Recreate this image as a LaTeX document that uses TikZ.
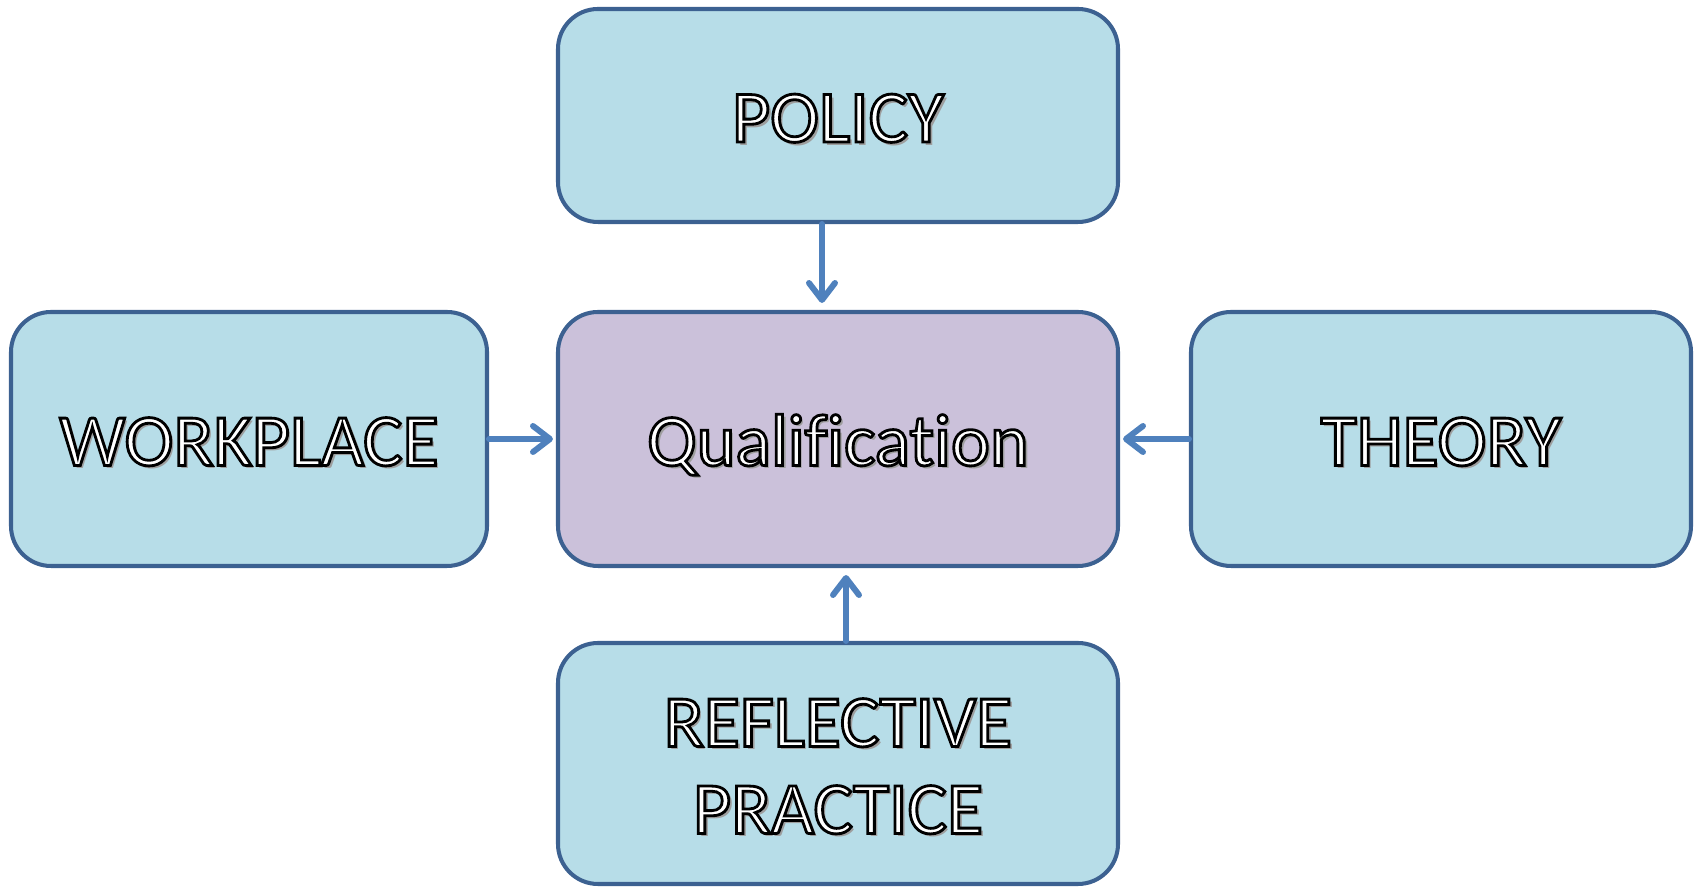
\documentclass[tikz,border=0pt]{standalone}
\usepackage{fontspec}
\setmainfont{Carlito}[Ligatures=NoCommon]
\usepackage{xcolor}
\usepackage{tikz}
\usetikzlibrary{positioning}
\usetikzlibrary{arrows.meta}

\definecolor{boxline}{HTML}{3C6191}
\definecolor{boxblue}{HTML}{B7DDE8}
\definecolor{boxlilac}{HTML}{CBC1DA}
\definecolor{arrowblue}{HTML}{4F81BD}

% white letters with a black rim (stroked glyphs) and a soft shadow
\newcommand\outlined[1]{%
  \raisebox{-1.2pt}[0.66em][0pt]{%
    \rlap{\kern1.8pt\raisebox{-1.8pt}{\color{black!38}#1}}%
    {\color{white}\special{pdf:code q 2 Tr 1.6 w 0 0 0 RG}#1\special{pdf:code Q}}}}

\begin{document}
\begin{tikzpicture}
               [box/.style = {draw=boxline, line width=2.3pt, rounded corners=0.8cm, fill=boxblue,
                              align=center, font=\fontsize{42}{49.5}\selectfont, inner sep=0pt},
                qual/.style = {box, fill=boxlilac},
                flow/.style = {draw=arrowblue, line width=3.4pt, line cap=round,
                               -{Straight Barb[length=0.34cm, width=0.52cm, line width=3.4pt, round]}}]
                \useasboundingbox (0,0) rectangle (33.96,17.76);
                % Centre box
                \node[qual, minimum width=11.2cm, minimum height=5.08cm] (qual) at (16.76,8.98) {\outlined{Qualification}};
                % Boxes around it
                \node[box, minimum width=11.2cm, minimum height=4.26cm] (policy) at (16.76,15.45) {\outlined{POLICY}};
                \node[box, minimum width=9.52cm, minimum height=5.08cm] (workplace) at (4.98,8.98) {\outlined{WORKPLACE}};
                \node[box, minimum width=10.0cm, minimum height=5.08cm] (theory) at (28.82,8.98) {\outlined{THEORY}};
                \node[box, minimum width=11.2cm, minimum height=4.82cm] (reflective) at (16.76,2.49) {\outlined{REFLECTIVE}\\\outlined{PRACTICE}};
                % Arrows
                \draw[flow] ([xshift=-0.32cm]policy.south) -- ([xshift=-0.32cm,yshift=0.14cm]qual.north);
                \draw[flow] ([xshift=0.16cm]reflective.north) -- ([xshift=0.16cm,yshift=-0.14cm]qual.south);
                \draw[flow] (workplace.east) -- ([xshift=-0.06cm]qual.west);
                \draw[flow] (theory.west) -- ([xshift=0.06cm]qual.east);
            \end{tikzpicture}
\end{document}
